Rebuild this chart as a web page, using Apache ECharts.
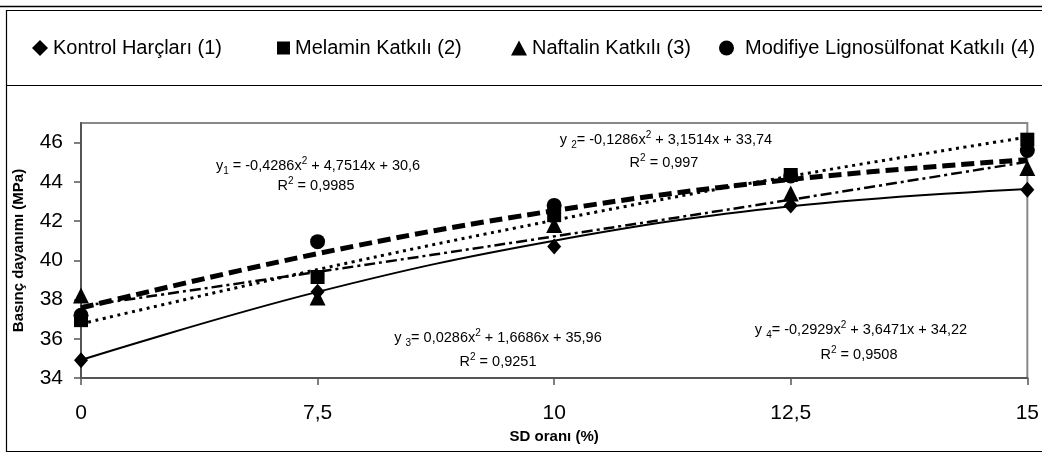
<!DOCTYPE html>
<html>
<head>
<meta charset="utf-8">
<script src="https://cdn.jsdelivr.net/npm/echarts@6/dist/echarts.min.js"></script>
<style>html,body{margin:0;padding:0;background:#fff;}#c{width:1042px;height:453px;}</style>
</head>
<body>
<div id="c"></div>
<script>
// ---- data ----
const categories = ['0', '7,5', '10', '12,5', '15'];
const seriesNames = ['Kontrol Harçları (1)', 'Melamin Katkılı (2)', 'Naftalin Katkılı (3)', 'Modifiye Lignosülfonat Katkılı (4)'];
const kontrol  = [34.9, 38.4, 40.7, 42.8, 43.6];
const melamin  = [36.95, 39.15, 42.3, 44.35, 46.15];
const naftalin = [38.2, 38.1, 41.8, 43.4, 44.7];
const modifiye = [37.2, 40.95, 42.8, 44.3, 45.6];
// trend lines read at the category positions
const trendKontrol  = [34.92, 38.39, 41.0, 42.75, 43.64];
const trendMelamin  = [36.76, 39.53, 42.04, 44.29, 46.28];
const trendNaftalin = [37.66, 39.41, 41.22, 43.09, 45.02];
const trendModifiye = [37.57, 40.34, 42.53, 44.12, 45.13];
const yTicks = { min: 34, max: 47, interval: 2 };
const equations = [
  ['y', '1', ' = -0,4286x', ' + 4,7514x + 30,6', 'R', ' = 0,9985'],
  ['y ', '2', '= -0,1286x', ' + 3,1514x + 33,74', 'R', ' = 0,997'],
  ['y ', '3', '= 0,0286x', ' + 1,6686x + 35,96', 'R', ' = 0,9251'],
  ['y ', '4', '= -0,2929x', ' + 3,6471x + 34,22', 'R', ' = 0,9508']
];

const FF = '"Liberation Sans", Arial, sans-serif';
const chart = echarts.init(document.getElementById('c'), null, { renderer: 'canvas' });

const eqPos = [
  [[318, 166], [316, 186]],
  [[666, 140], [664, 163]],
  [[498, 338], [498, 362]],
  [[861, 330], [859, 355]]
];
const rich = {
  t: { fontSize: 14.5, fontFamily: FF, fill: '#000', lineHeight: 20, verticalAlign: 'middle' },
  sub: { fontSize: 10, fontFamily: FF, fill: '#000', lineHeight: 12, verticalAlign: 'bottom' },
  sup: { fontSize: 10, fontFamily: FF, fill: '#000', lineHeight: 12, verticalAlign: 'top' }
};
const eqGraphics = [];
equations.forEach((e, i) => {
  eqGraphics.push({
    type: 'text', x: eqPos[i][0][0], y: eqPos[i][0][1], z: 50,
    style: { text: `{t|${e[0]}}{sub|${e[1]}}{t|${e[2]}}{sup|2}{t|${e[3]}}`, rich, align: 'center', verticalAlign: 'middle' }
  });
  eqGraphics.push({
    type: 'text', x: eqPos[i][1][0], y: eqPos[i][1][1], z: 50,
    style: { text: `{t|${e[4]}}{sup|2}{t|${e[5]}}`, rich, align: 'center', verticalAlign: 'middle' }
  });
});

function legendAt(idx, left, icon, w, h, pad) {
  return {
    data: [{ name: seriesNames[idx], icon: icon }],
    left: left, top: 33, itemWidth: w, itemHeight: h, selectedMode: false,
    itemStyle: { color: '#000', opacity: 1 },
    textStyle: { fontSize: 20, fontFamily: FF, color: '#000', padding: [0, 0, 0, pad] }
  };
}

const trendStyles = [
  { width: 2, type: 'solid' },
  { width: 3, type: [3, 4.5] },
  { width: 2.5, type: [11, 4, 3, 4] },
  { width: 5, type: [13, 6] }
];
const trends = [trendKontrol, trendMelamin, trendNaftalin, trendModifiye];
const points = [kontrol, melamin, naftalin, modifiye];
const symbols = ['diamond', 'rect', 'triangle', 'circle'];
const symSizes = [[14, 16], 14, [16, 16], 15];

const series = [];
trends.forEach((d, i) => {
  series.push({
    name: 'trend' + (i + 1), type: 'line', data: d, smooth: 0.4, symbol: 'none', z: 3,
    lineStyle: { color: '#000', width: trendStyles[i].width, type: trendStyles[i].type, cap: 'butt' },
    silent: true
  });
});
points.forEach((d, i) => {
  series.push({
    name: seriesNames[i], type: 'scatter', data: d, symbol: symbols[i], symbolSize: symSizes[i], z: 5,
    itemStyle: { color: '#000', opacity: 1 }
  });
});

chart.setOption({
  animation: false,
  backgroundColor: '#fff',
  legend: [
    legendAt(0, 27, 'diamond', 16, 16, 0),
    legendAt(1, 272, 'rect', 13, 13, 0),
    legendAt(2, 506, 'triangle', 16, 15, 0),
    legendAt(3, 714, 'circle', 15, 15, 6)
  ],
  grid: { left: 81, right: 14, top: 123, bottom: 75, show: true, borderColor: '#888', borderWidth: 2, backgroundColor: 'transparent' },
  xAxis: {
    type: 'category', data: categories, boundaryGap: false,
    name: 'SD oranı (%)', nameLocation: 'middle', nameGap: 51,
    nameTextStyle: { fontSize: 15, fontWeight: 'bold', fontFamily: FF, color: '#000' },
    axisLine: { lineStyle: { color: '#555', width: 2 } },
    axisTick: { show: true, length: 7, lineStyle: { color: '#555', width: 1.5 } },
    axisLabel: { fontSize: 21, fontFamily: FF, color: '#000', margin: 25 },
    splitLine: { show: false }
  },
  yAxis: {
    type: 'value', min: yTicks.min, max: yTicks.max, interval: yTicks.interval,
    name: 'Basınç dayanımı (MPa)', nameLocation: 'middle', nameGap: 55, nameRotate: 90,
    nameTextStyle: { fontSize: 15, fontWeight: 'bold', fontFamily: FF, color: '#000' },
    axisLine: { show: true, lineStyle: { color: '#555', width: 2 } },
    axisTick: { show: true, length: 7, lineStyle: { color: '#555', width: 1.5 } },
    axisLabel: { fontSize: 21, fontFamily: FF, color: '#000', margin: 18, showMaxLabel: false },
    splitLine: { show: false }
  },
  graphic: [
    { type: 'line', shape: { x1: 0, y1: 6.5, x2: 1042, y2: 6.5 }, style: { stroke: '#000', lineWidth: 1.5 }, silent: true },
    { type: 'rect', shape: { x: 6.5, y: 10.5, width: 1040, height: 441 }, style: { stroke: '#000', fill: 'none', lineWidth: 1.2 }, silent: true },
    { type: 'line', shape: { x1: 6, y1: 85.5, x2: 1042, y2: 85.5 }, style: { stroke: '#000', lineWidth: 1.2 }, silent: true }
  ].concat(eqGraphics),
  series: series
});
</script>
</body>
</html>
